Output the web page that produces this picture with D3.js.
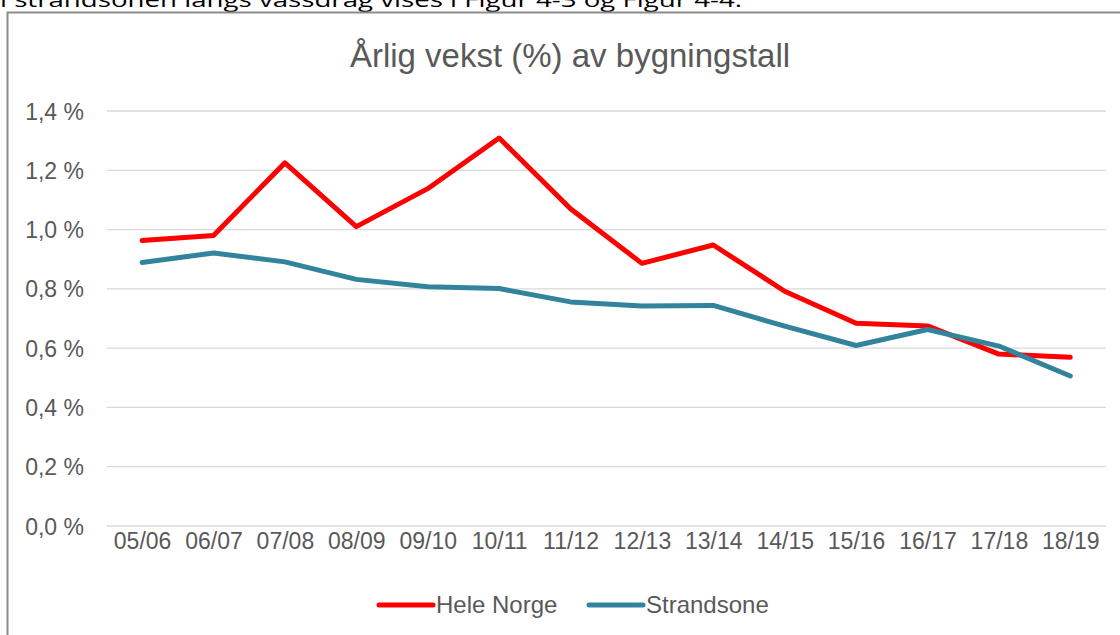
<!DOCTYPE html>
<html>
<head>
<meta charset="utf-8">
<script src="https://cdn.jsdelivr.net/npm/d3@7"></script>
<style>
  html, body { margin: 0; padding: 0; background: #fff; overflow: hidden; }
  svg { display: block; }
</style>
</head>
<body>
<svg id="chart" width="1120" height="635"></svg>
<script>
const categories = ["05/06","06/07","07/08","08/09","09/10","10/11","11/12","12/13","13/14","14/15","15/16","16/17","17/18","18/19"];
const heleNorge = [0.963,0.980,1.225,1.010,1.138,1.309,1.070,0.886,0.948,0.792,0.684,0.675,0.580,0.569];
const strandsone = [0.889,0.921,0.891,0.832,0.807,0.801,0.756,0.742,0.744,0.674,0.609,0.663,0.607,0.506];
const yTicks = [0,0.2,0.4,0.6,0.8,1.0,1.2,1.4];
const seriesNames = ["Hele Norge","Strandsone"];
const seriesColors = ["#FF0000","#31849B"];
const titleText = "Årlig vekst (%) av bygningstall";
const captionText = "i strandsonen langs vassdrag vises i Figur 4-3 og Figur 4-4.";

const svg = d3.select("#chart");
const font = "'Liberation Sans', Arial, sans-serif";
const textColor = "#595959";

// caption text above the chart (cut off at top, as in the source page)
svg.append("text").attr("x", 0).attr("y", 7)
  .attr("font-family", "'Open Sans', 'Liberation Sans', sans-serif")
  .attr("font-size", 20).attr("fill", "#000")
  .attr("textLength", 742).attr("lengthAdjust", "spacingAndGlyphs")
  .text(captionText);

// chart border
svg.append("rect").attr("x", 7.5).attr("y", 12.5).attr("width", 1130).attr("height", 640)
  .attr("fill", "#fff").attr("stroke", "#8c8c8c").attr("stroke-width", 2);

const x = d3.scalePoint().domain(categories).range([106.4, 1106]).padding(0.5);
const y = d3.scaleLinear().domain([0, 1.4]).range([526, 111]);

// gridlines
svg.append("g").selectAll("line").data(yTicks).join("line")
  .attr("x1", 107).attr("x2", 1106)
  .attr("y1", d => y(d)).attr("y2", d => y(d))
  .attr("stroke", "#d9d9d9").attr("stroke-width", 1.3);

// y axis
const yAxis = d3.axisLeft(y).tickValues(yTicks).tickSize(0).tickPadding(0)
  .tickFormat(d => d3.format(".1f")(d).replace(".", ",") + " %");
const gy = svg.append("g").attr("transform", "translate(84,0)").call(yAxis);
gy.select(".domain").remove();
gy.selectAll("text").attr("font-family", font).attr("font-size", 23).attr("fill", textColor).attr("dy", "0.35em");

// x axis
const xAxis = d3.axisBottom(x).tickSize(0).tickPadding(0);
const gx = svg.append("g").attr("transform", "translate(0,533)").call(xAxis);
gx.select(".domain").remove();
gx.selectAll("text").attr("font-family", font).attr("font-size", 23).attr("fill", textColor).attr("dy", "0.71em");

// title
svg.append("text").attr("x", 570).attr("y", 67).attr("text-anchor", "middle")
  .attr("font-family", font).attr("font-size", 33).attr("fill", textColor).text(titleText);

// lines
const line = d3.line().x((d, i) => x(categories[i])).y(d => y(d));
[heleNorge, strandsone].forEach((s, k) => {
  svg.append("path").datum(s).attr("d", line)
    .attr("fill", "none").attr("stroke", seriesColors[k]).attr("stroke-width", 5)
    .attr("stroke-linejoin", "round").attr("stroke-linecap", "round");
});

// legend
const legendX = [379, 589];
seriesNames.forEach((n, k) => {
  const g = svg.append("g").attr("transform", `translate(${legendX[k]},605)`);
  g.append("line").attr("x1", 0).attr("x2", 54).attr("y1", 0).attr("y2", 0)
    .attr("stroke", seriesColors[k]).attr("stroke-width", 5).attr("stroke-linecap", "round");
  g.append("text").attr("x", 57).attr("y", 0).attr("dy", "0.35em")
    .attr("font-family", font).attr("font-size", 24).attr("fill", textColor).text(n);
});
</script>
</body>
</html>
